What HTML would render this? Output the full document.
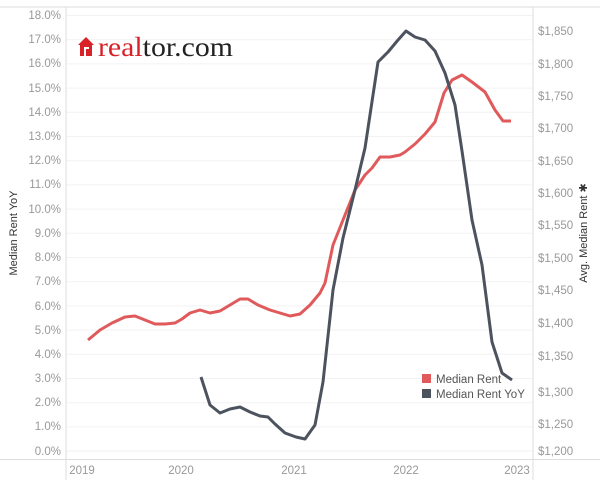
<!DOCTYPE html>
<html><head><style>
body{margin:0;background:#fff;}
svg text{font-family:"Liberation Sans",sans-serif;}
</style></head><body>
<svg width="600" height="480" viewBox="0 0 600 480" xmlns="http://www.w3.org/2000/svg">
<rect width="600" height="480" fill="#fff"/>
<line x1="0" y1="7" x2="600" y2="7" stroke="#ddd" stroke-width="1"/>
<g stroke="#f2f2f2" stroke-width="1">
<line x1="66" y1="15.5" x2="533" y2="15.5"/><line x1="66" y1="39.7" x2="533" y2="39.7"/><line x1="66" y1="63.9" x2="533" y2="63.9"/><line x1="66" y1="88.1" x2="533" y2="88.1"/><line x1="66" y1="112.3" x2="533" y2="112.3"/><line x1="66" y1="136.5" x2="533" y2="136.5"/><line x1="66" y1="160.7" x2="533" y2="160.7"/><line x1="66" y1="184.9" x2="533" y2="184.9"/><line x1="66" y1="209.1" x2="533" y2="209.1"/><line x1="66" y1="233.3" x2="533" y2="233.3"/><line x1="66" y1="257.5" x2="533" y2="257.5"/><line x1="66" y1="281.7" x2="533" y2="281.7"/><line x1="66" y1="305.9" x2="533" y2="305.9"/><line x1="66" y1="330.1" x2="533" y2="330.1"/><line x1="66" y1="354.3" x2="533" y2="354.3"/><line x1="66" y1="378.5" x2="533" y2="378.5"/><line x1="66" y1="402.7" x2="533" y2="402.7"/><line x1="66" y1="426.9" x2="533" y2="426.9"/><line x1="66" y1="451" x2="533" y2="451"/>
</g>
<line x1="66" y1="7" x2="66" y2="480" stroke="#ddd"/>
<line x1="533" y1="7" x2="533" y2="480" stroke="#ddd"/>
<line x1="0" y1="459.5" x2="600" y2="459.5" stroke="#ddd"/>
<g font-size="11.5" fill="#999" text-anchor="end">
<text x="61" y="19">18.0%</text><text x="61" y="43">17.0%</text><text x="61" y="67">16.0%</text><text x="61" y="92">15.0%</text><text x="61" y="116">14.0%</text><text x="61" y="140">13.0%</text><text x="61" y="164">12.0%</text><text x="61" y="188">11.0%</text><text x="61" y="213">10.0%</text><text x="61" y="237">9.0%</text><text x="61" y="261">8.0%</text><text x="61" y="285">7.0%</text><text x="61" y="310">6.0%</text><text x="61" y="334">5.0%</text><text x="61" y="358">4.0%</text><text x="61" y="382">3.0%</text><text x="61" y="406">2.0%</text><text x="61" y="430">1.0%</text><text x="61" y="455">0.0%</text>
</g>
<g font-size="11.5" fill="#999">
<text x="538" y="35">$1,850</text><text x="538" y="68">$1,800</text><text x="538" y="100">$1,750</text><text x="538" y="132">$1,700</text><text x="538" y="165">$1,650</text><text x="538" y="197">$1,600</text><text x="538" y="229">$1,550</text><text x="538" y="262">$1,500</text><text x="538" y="294">$1,450</text><text x="538" y="327">$1,400</text><text x="538" y="360">$1,350</text><text x="538" y="396">$1,300</text><text x="538" y="428">$1,250</text><text x="538" y="455">$1,200</text>
</g>
<g font-size="11.5" fill="#999" text-anchor="middle">
<text x="82" y="474">2019</text><text x="181" y="474">2020</text><text x="294" y="474">2021</text><text x="406" y="474">2022</text><text x="517" y="474">2023</text>
</g>
<text transform="translate(17,233) rotate(-90)" font-size="11" fill="#333" text-anchor="middle">Median Rent YoY</text>
<text transform="translate(587,233) rotate(-90)" font-size="11" fill="#333" text-anchor="middle">Avg. Median Rent ✱</text>
<g transform="translate(78,37)">
<path d="M0,8 L8,0 L16,8 L14,8 L14,19 L2,19 L2,8 Z" fill="#d92228"/>
<rect x="6" y="10" width="2" height="9" fill="#fff"/><rect x="6" y="10" width="5" height="2" fill="#fff"/>
</g>
<text x="98" y="56" font-size="27" fill="#d92228" textLength="135" lengthAdjust="spacingAndGlyphs" style="font-family:'Liberation Serif',serif">real<tspan fill="#222">tor.com</tspan></text>
<polyline fill="none" stroke="#e05a5b" stroke-width="3" stroke-linejoin="round" points="88,340 100,330 112,323 125,317 135,316 145,320 155,324 165,324 175,323 182,319 190,313 200,310 210,313 220,311 230,305 240,299 248,299 258,305 270,310 280,313 290,316 300,314 310,305 320,293 325,283 333,245 343,220 355,190 365,175 372,168 380,157 390,157 400,155 405,152 415,144 425,134 435,122 444,93 452,80 462,75 472,82 485,92 495,110 503,121 511,121"/>
<polyline fill="none" stroke="#4c535e" stroke-width="3" stroke-linejoin="round" points="201,377 210,405 220,413 230,409 240,407 250,412 260,416 268,417 275,424 285,433 296,437 305,439 315,425 323,382 333,290 343,238 355,190 365,148 378,62 388,52 398,40 406,31 415,37 425,40 435,51 445,73 455,105 462,151 472,220 482,265 492,342 502,373 512,380"/>
<rect x="422" y="374" width="9" height="9" fill="#e05a5b"/>
<text x="436" y="383" font-size="11.5" fill="#555">Median Rent</text>
<rect x="422" y="389" width="9" height="9" fill="#4c535e"/>
<text x="436" y="398" font-size="11.5" fill="#555">Median Rent YoY</text>
</svg>
</body></html>
